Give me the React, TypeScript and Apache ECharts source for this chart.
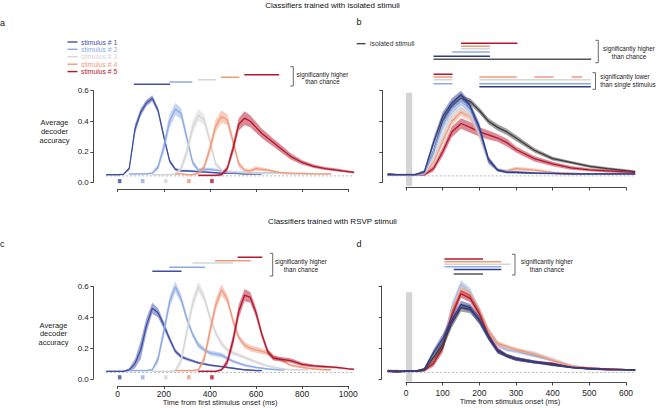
import React, { useEffect, useRef } from "react";
import * as echarts from "echarts";

// ---------------- data ----------------
const T = [-50, -25, 0, 25, 50, 75, 100, 125, 150, 175, 200, 225, 250, 275, 300, 350, 400, 450, 500, 550, 600, 625];
const ONSETS = [0, 100, 200, 300, 400];
const STIM_NAMES = ["stimulus # 1", "stimulus # 2", "stimulus # 3", "stimulus # 4", "stimulus # 5"];
const STIM_COLORS = ["#3e4fa6", "#8eaae4", "#d6d6d6", "#f09a7c", "#b5162d"];
const STIM_COLORS_BD = ["#2f3c8a", "#8eaae4", "#d6d6d6", "#f09a7c", "#b5162d"];
const ISO_COLOR = "#3c3c3c";
const CHANCE = 0.042;
const X_TICKS_AC = [0, 1000, 200];
const X_TICKS_BD = [0, 600, 100];
const Y_TICKS = [0, 0.6, 0.2];

// panel a: classifiers trained with isolated stimuli, tested on RSVP (relative time T after each onset)
const a1 = [0.05, 0.05, 0.05, 0.052, 0.09, 0.35, 0.46, 0.52, 0.55, 0.47, 0.3, 0.14, 0.085, 0.075, 0.075, 0.07, 0.065, 0.06, 0.06, 0.055, 0.055, 0.055];
const a2 = [0.055, 0.055, 0.055, 0.055, 0.06, 0.1, 0.23, 0.4, 0.48, 0.45, 0.29, 0.13, 0.08, 0.085, 0.085, 0.075, 0.065, 0.06, 0.06, 0.06, 0.06, 0.06];
const a3 = [0.05, 0.05, 0.05, 0.05, 0.055, 0.09, 0.2, 0.36, 0.44, 0.41, 0.27, 0.12, 0.08, 0.07, 0.07, 0.065, 0.06, 0.058, 0.058, 0.055, 0.055, 0.055];
const a4 = [0.055, 0.055, 0.05, 0.05, 0.06, 0.1, 0.22, 0.37, 0.43, 0.41, 0.27, 0.12, 0.08, 0.075, 0.09, 0.08, 0.065, 0.06, 0.058, 0.055, 0.055, 0.055];
const a5 = [0.045, 0.045, 0.045, 0.045, 0.05, 0.09, 0.22, 0.38, 0.42, 0.4, 0.36, 0.32, 0.29, 0.26, 0.23, 0.17, 0.13, 0.105, 0.09, 0.08, 0.07, 0.065];
const errA1 = [0.005, 0.005, 0.005, 0.005, 0.01, 0.03, 0.025, 0.02, 0.02, 0.02, 0.02, 0.015, 0.01, 0.008, 0.008, 0.006, 0.005, 0.005, 0.005, 0.005, 0.005, 0.005];
const errA2 = [0.005, 0.005, 0.005, 0.005, 0.008, 0.02, 0.04, 0.045, 0.04, 0.035, 0.03, 0.02, 0.012, 0.012, 0.01, 0.008, 0.006, 0.005, 0.005, 0.005, 0.005, 0.005];
const errA3 = [0.005, 0.005, 0.005, 0.005, 0.008, 0.02, 0.04, 0.045, 0.04, 0.035, 0.03, 0.02, 0.012, 0.01, 0.008, 0.006, 0.005, 0.005, 0.005, 0.005, 0.005, 0.005];
const errA4 = [0.005, 0.005, 0.005, 0.005, 0.008, 0.02, 0.035, 0.04, 0.04, 0.035, 0.03, 0.02, 0.012, 0.012, 0.015, 0.01, 0.006, 0.005, 0.005, 0.005, 0.005, 0.005];
const errA5 = [0.006, 0.006, 0.006, 0.006, 0.008, 0.02, 0.035, 0.04, 0.045, 0.04, 0.035, 0.03, 0.03, 0.025, 0.025, 0.02, 0.015, 0.012, 0.01, 0.01, 0.008, 0.008];

// panel b: isolated vs each RSVP position (time from stimulus onset T)
const bIso = [0.055, 0.05, 0.05, 0.05, 0.06, 0.2, 0.4, 0.5, 0.55, 0.53, 0.47, 0.4, 0.36, 0.33, 0.29, 0.21, 0.155, 0.13, 0.105, 0.09, 0.077, 0.07];
const b1 = [0.05, 0.05, 0.05, 0.05, 0.07, 0.26, 0.43, 0.52, 0.575, 0.5, 0.36, 0.15, 0.08, 0.065, 0.065, 0.06, 0.058, 0.055, 0.055, 0.055, 0.055, 0.055];
const b2 = [0.05, 0.05, 0.05, 0.05, 0.06, 0.2, 0.37, 0.48, 0.53, 0.48, 0.34, 0.14, 0.08, 0.07, 0.065, 0.06, 0.058, 0.055, 0.055, 0.055, 0.055, 0.055];
const b3 = [0.05, 0.05, 0.05, 0.05, 0.06, 0.16, 0.31, 0.44, 0.49, 0.45, 0.32, 0.14, 0.08, 0.07, 0.07, 0.062, 0.058, 0.055, 0.055, 0.055, 0.055, 0.055];
const b4 = [0.05, 0.05, 0.05, 0.05, 0.055, 0.13, 0.27, 0.4, 0.46, 0.43, 0.31, 0.14, 0.08, 0.075, 0.09, 0.08, 0.065, 0.06, 0.055, 0.055, 0.055, 0.055];
const b5 = [0.05, 0.05, 0.05, 0.05, 0.05, 0.09, 0.2, 0.33, 0.385, 0.36, 0.33, 0.31, 0.29, 0.26, 0.215, 0.155, 0.12, 0.095, 0.082, 0.075, 0.068, 0.065];
const errBIso = [0.005, 0.005, 0.005, 0.005, 0.01, 0.02, 0.02, 0.02, 0.02, 0.02, 0.02, 0.02, 0.02, 0.02, 0.02, 0.015, 0.012, 0.01, 0.01, 0.008, 0.008, 0.008];
const errB1 = [0.005, 0.005, 0.005, 0.005, 0.01, 0.03, 0.03, 0.03, 0.025, 0.025, 0.03, 0.02, 0.01, 0.008, 0.008, 0.006, 0.005, 0.005, 0.005, 0.005, 0.005, 0.005];
const errB2 = [0.005, 0.005, 0.005, 0.005, 0.01, 0.025, 0.03, 0.03, 0.025, 0.025, 0.03, 0.02, 0.01, 0.008, 0.008, 0.006, 0.005, 0.005, 0.005, 0.005, 0.005, 0.005];
const errB3 = [0.005, 0.005, 0.005, 0.005, 0.01, 0.025, 0.03, 0.03, 0.025, 0.025, 0.03, 0.02, 0.01, 0.008, 0.008, 0.006, 0.005, 0.005, 0.005, 0.005, 0.005, 0.005];
const errB4 = [0.005, 0.005, 0.005, 0.005, 0.008, 0.02, 0.025, 0.025, 0.025, 0.025, 0.025, 0.02, 0.01, 0.01, 0.012, 0.01, 0.006, 0.005, 0.005, 0.005, 0.005, 0.005];
const errB5 = [0.006, 0.006, 0.006, 0.006, 0.008, 0.02, 0.03, 0.035, 0.035, 0.035, 0.03, 0.03, 0.025, 0.025, 0.02, 0.018, 0.015, 0.012, 0.01, 0.01, 0.008, 0.008];

// panel c: classifiers trained with RSVP stimuli
const c1 = [0.05, 0.05, 0.05, 0.05, 0.06, 0.1, 0.19, 0.35, 0.46, 0.43, 0.35, 0.26, 0.18, 0.145, 0.13, 0.105, 0.09, 0.08, 0.07, 0.06, 0.055, 0.055];
const c2 = [0.055, 0.055, 0.055, 0.055, 0.06, 0.13, 0.31, 0.5, 0.6, 0.52, 0.39, 0.29, 0.22, 0.19, 0.17, 0.155, 0.115, 0.09, 0.075, 0.065, 0.06, 0.06];
const c3 = [0.05, 0.05, 0.05, 0.05, 0.055, 0.12, 0.31, 0.49, 0.6, 0.53, 0.4, 0.3, 0.23, 0.19, 0.17, 0.14, 0.11, 0.085, 0.07, 0.06, 0.06, 0.06];
const c4 = [0.055, 0.055, 0.055, 0.055, 0.06, 0.13, 0.31, 0.48, 0.58, 0.52, 0.38, 0.27, 0.22, 0.2, 0.19, 0.17, 0.13, 0.09, 0.075, 0.065, 0.06, 0.06];
const c5 = [0.05, 0.05, 0.05, 0.05, 0.06, 0.11, 0.25, 0.44, 0.545, 0.53, 0.43, 0.29, 0.18, 0.135, 0.13, 0.12, 0.095, 0.085, 0.08, 0.075, 0.066, 0.063];
const errC1 = [0.005, 0.005, 0.005, 0.005, 0.01, 0.03, 0.06, 0.05, 0.035, 0.03, 0.025, 0.02, 0.015, 0.012, 0.01, 0.008, 0.007, 0.006, 0.005, 0.005, 0.005, 0.005];
const errC2 = [0.005, 0.005, 0.005, 0.005, 0.008, 0.03, 0.04, 0.04, 0.035, 0.03, 0.025, 0.02, 0.02, 0.015, 0.015, 0.015, 0.01, 0.008, 0.006, 0.005, 0.005, 0.005];
const errC3 = [0.005, 0.005, 0.005, 0.005, 0.008, 0.03, 0.04, 0.04, 0.035, 0.03, 0.025, 0.02, 0.02, 0.015, 0.015, 0.012, 0.01, 0.008, 0.006, 0.005, 0.005, 0.005];
const errC4 = [0.005, 0.005, 0.005, 0.005, 0.008, 0.03, 0.04, 0.04, 0.035, 0.03, 0.025, 0.02, 0.02, 0.02, 0.02, 0.015, 0.01, 0.008, 0.006, 0.005, 0.005, 0.005];
const errC5 = [0.005, 0.005, 0.005, 0.005, 0.008, 0.025, 0.04, 0.045, 0.04, 0.035, 0.03, 0.025, 0.02, 0.015, 0.015, 0.015, 0.012, 0.01, 0.008, 0.006, 0.005, 0.005];

// panel d
const dIso = [0.05, 0.05, 0.05, 0.05, 0.06, 0.14, 0.22, 0.36, 0.46, 0.45, 0.38, 0.27, 0.18, 0.15, 0.13, 0.11, 0.09, 0.075, 0.065, 0.06, 0.06, 0.06];
const d1 = [0.05, 0.045, 0.05, 0.05, 0.065, 0.17, 0.26, 0.38, 0.48, 0.46, 0.38, 0.27, 0.18, 0.15, 0.13, 0.11, 0.095, 0.075, 0.065, 0.06, 0.06, 0.055];
const d2 = [0.055, 0.05, 0.05, 0.05, 0.06, 0.12, 0.22, 0.46, 0.61, 0.56, 0.44, 0.31, 0.22, 0.19, 0.18, 0.15, 0.12, 0.085, 0.07, 0.065, 0.06, 0.06];
const d3 = [0.05, 0.05, 0.05, 0.05, 0.06, 0.12, 0.22, 0.44, 0.59, 0.55, 0.44, 0.31, 0.23, 0.2, 0.19, 0.17, 0.13, 0.09, 0.07, 0.065, 0.06, 0.06];
const d4 = [0.055, 0.055, 0.05, 0.05, 0.06, 0.12, 0.22, 0.43, 0.57, 0.54, 0.44, 0.31, 0.23, 0.21, 0.19, 0.16, 0.12, 0.085, 0.07, 0.065, 0.06, 0.06];
const d5 = [0.05, 0.05, 0.05, 0.05, 0.055, 0.1, 0.2, 0.41, 0.55, 0.52, 0.42, 0.28, 0.19, 0.15, 0.13, 0.11, 0.1, 0.075, 0.07, 0.065, 0.06, 0.06];
const errD = [0.005, 0.005, 0.005, 0.005, 0.008, 0.02, 0.03, 0.03, 0.025, 0.025, 0.025, 0.02, 0.015, 0.012, 0.012, 0.01, 0.008, 0.006, 0.005, 0.005, 0.005, 0.005];

// significance bars: [color key, level, segments in ms]
const SIG_A = [
  [0, 0.642, [[70, 227]]],
  [1, 0.657, [[224, 324]]],
  [2, 0.672, [[348, 427]]],
  [3, 0.688, [[447, 527]]],
  [4, 0.705, [[549, 700]]],
];
const SIG_B = [
  [4, 0.91, [[150, 304]]],
  [3, 0.891, [[150, 229]]],
  [2, 0.875, [[150, 229]]],
  [1, 0.853, [[126, 229]]],
  [0, 0.825, [[75, 229]]],
  [-1, 0.806, [[75, 505]]],
  [4, 0.707, [[75, 127]]],
  [3, 0.69, [[75, 127], [200, 302], [350, 402], [452, 481]]],
  [2, 0.672, [[75, 127], [200, 504]]],
  [1, 0.645, [[75, 127], [200, 504]]],
  [0, 0.626, [[200, 504]]],
];
const SIG_C = [
  [0, 0.7, [[150, 277]]],
  [1, 0.726, [[224, 379]]],
  [2, 0.754, [[324, 501]]],
  [3, 0.769, [[422, 577]]],
  [4, 0.791, [[520, 627]]],
];
const SIG_D = [
  [4, 0.774, [[105, 210]]],
  [3, 0.757, [[105, 260]]],
  [2, 0.74, [[105, 285]]],
  [1, 0.725, [[105, 260]]],
  [0, 0.706, [[130, 260]]],
  [-1, 0.677, [[130, 210]]],
];
const STIM_BAR = [0, 17]; // stimulus presentation (ms)
const GRAY_BAR_B = [-0.025, 0.587];
const GRAY_BAR_D = [-0.017, 0.56];

// ---------------- layout ----------------
const FONT = '"Liberation Sans", Arial, Helvetica, sans-serif';
const AXIS_COLOR = "#333";
const PANELS = [
  { x0: 117.7, x1: 348.3, xMax: 1000, y0: 182.3, y6: 90.7, yAxisX: 93.3, xAxisY: 189, xLabels: false, xMin: -50, xEnd: 1030, xLast: 1025 },
  { x0: 406, x1: 626, xMax: 600, y0: 182.3, y6: 90.7, yAxisX: 382.3, xAxisY: 187.5, xLabels: false, xMin: -50, xEnd: 650, xLast: 625 },
  { x0: 117.7, x1: 348.3, xMax: 1000, y0: 379, y6: 286.7, yAxisX: 93.3, xAxisY: 386, xLabels: true, xMin: -50, xEnd: 1030, xLast: 1025, lblMargin: 3.5 },
  { x0: 406, x1: 626, xMax: 600, y0: 379, y6: 286, yAxisX: 381.7, xAxisY: 382.5, xLabels: true, xMin: -50, xEnd: 650, xLast: 625, lblMargin: 6 },
];

function buildAxes() {
  const grid: any[] = [];
  const xAxis: any[] = [];
  const yAxis: any[] = [];
  const line = { show: true, onZero: false, lineStyle: { color: AXIS_COLOR, width: 0.9 } };
  const tick = { show: true, length: 3, inside: false, lineStyle: { color: AXIS_COLOR, width: 0.9 } };
  PANELS.forEach((p, i) => {
    const xt = p.xMax === 1000 ? X_TICKS_AC : X_TICKS_BD;
    grid.push({ left: p.x0, top: p.y6, width: p.x1 - p.x0, height: p.y0 - p.y6, outerBoundsMode: "none", containLabel: false });
    xAxis.push({
      gridIndex: i, type: "value", min: xt[0], max: xt[1], interval: xt[2], offset: p.xAxisY - p.y0,
      axisLine: line, axisTick: tick, splitLine: { show: false },
      axisLabel: { show: p.xLabels, fontSize: 8.5, color: "#222", fontFamily: FONT, margin: p.lblMargin || 4, formatter: (v: number) => String(v) },
    });
    yAxis.push({
      gridIndex: i, type: "value", min: Y_TICKS[0], max: Y_TICKS[1], interval: Y_TICKS[2], offset: p.x0 - p.yAxisX,
      axisLine: line, axisTick: tick, splitLine: { show: false },
      axisLabel: { show: i % 2 === 0, fontSize: 8, color: "#222", fontFamily: FONT, margin: 4.5, formatter: (v: number) => v.toFixed(1) },
    });
  });
  PANELS.forEach((p, i) => {
    const pxMs = (p.x1 - p.x0) / p.xMax;
    const pxU = (p.y0 - p.y6) / 0.6;
    grid.push({ left: p.x0 + p.xMin * pxMs, width: (p.xEnd - p.xMin) * pxMs, top: p.y0 - 1.0 * pxU, height: 1.05 * pxU, outerBoundsMode: "none", containLabel: false });
    xAxis.push({ gridIndex: 4 + i, type: "value", min: p.xMin, max: p.xEnd, show: false, splitLine: { show: false } });
    yAxis.push({ gridIndex: 4 + i, type: "value", min: -0.05, max: 1.0, show: false, splitLine: { show: false } });
  });
  return { grid, xAxis, yAxis };
}

function band(ax: number, offset: number, mean: number[], err: number[], color: string, z: number, lw = 1.3) {
  const rows = T.map((t, i) => [t + offset, mean[i] - err[i], mean[i] + err[i]]);
  const area = {
    type: "custom", xAxisIndex: ax, yAxisIndex: ax, silent: true, z, clip: false,
    data: rows, encode: { x: 0, y: [1, 2] },
    renderItem: (params: any, api: any) => {
      if (params.dataIndex !== 0) return { type: "group", children: [] };
      const up = rows.map((r) => api.coord([r[0], r[2]]));
      const dn = rows.map((r) => api.coord([r[0], r[1]])).reverse();
      return { type: "polygon", shape: { points: up.concat(dn) }, style: { fill: color, opacity: 0.5 } };
    },
  };
  const ln = { type: "line", xAxisIndex: ax, yAxisIndex: ax, symbol: "none", silent: true, z,
    data: T.map((t, i) => [t + offset, mean[i]]), lineStyle: { color, width: lw } };
  return [area, ln];
}

function sigBars(ax: number, rows: any[], colors: string[]) {
  const out: any[] = [];
  rows.forEach((r) => {
    const color = r[0] < 0 ? "#555" : colors[r[0]];
    r[2].forEach((seg: number[]) => {
      out.push({ type: "line", xAxisIndex: ax, yAxisIndex: ax, symbol: "none", silent: true, z: 5,
        data: [[seg[0], r[1]], [seg[1], r[1]]], lineStyle: { color, width: 1.5 } });
    });
  });
  return out;
}

function chance(ax: number, p: any, bar?: number[]) {
  const s: any = { type: "line", xAxisIndex: ax, yAxisIndex: ax, symbol: "none", silent: true, z: 1,
    data: [[p.xMin, CHANCE], [p.xLast, CHANCE]],
    lineStyle: { color: "#9a9a9a", width: 0.7, type: [2, 2] } };
  if (bar) {
    s.markArea = { silent: true, itemStyle: { color: "#d4d4d4" },
      data: [[{ xAxis: STIM_BAR[0], yAxis: bar[0] }, { xAxis: STIM_BAR[1], yAxis: bar[1] }]] };
  }
  return s;
}

function stimSquares(ax: number, y: number) {
  return { type: "scatter", xAxisIndex: ax, yAxisIndex: ax, symbol: "rect", symbolSize: [3.6, 4.2], silent: true, z: 6,
    data: ONSETS.map((o, i) => ({ value: [o + (STIM_BAR[0] + STIM_BAR[1]) / 2, y], itemStyle: { color: STIM_COLORS[i] } })) };
}

function txt(text: string, x: number, y: number, size: number, fill = "#222", align = "left") {
  return { type: "text", x, y, silent: true, z: 100,
    style: { text, fontSize: size, fontFamily: FONT, fill, align, verticalAlign: "middle", textAlign: align, textVerticalAlign: "middle" } };
}
function bracket(x: number, y1: number, y2: number) {
  return { type: "polyline", silent: true, z: 100, shape: { points: [[x - 3, y1], [x, y1], [x, y2], [x - 3, y2]] },
    style: { stroke: "#444", lineWidth: 0.8, fill: null } };
}

function buildOption() {
  const { grid, xAxis, yAxis } = buildAxes();
  const series: any[] = [];
  // panel a
  series.push(chance(4, PANELS[0]));
  [[a1, errA1], [a2, errA2], [a3, errA3], [a4, errA4], [a5, errA5]].forEach((m, i) =>
    series.push(...band(4, ONSETS[i], m[0], m[1], STIM_COLORS[i], 2 + i)));
  series.push(...sigBars(4, SIG_A, STIM_COLORS), stimSquares(4, 0.008));
  // panel b
  series.push(chance(5, PANELS[1], GRAY_BAR_B));
  series.push(...band(5, 0, bIso, errBIso, ISO_COLOR, 2));
  [[b5, errB5, 4], [b4, errB4, 3], [b3, errB3, 2], [b2, errB2, 1], [b1, errB1, 0]].forEach((m: any, k) =>
    series.push(...band(5, 0, m[0], m[1], STIM_COLORS_BD[m[2]], 3 + k)));
  series.push(...sigBars(5, SIG_B, STIM_COLORS_BD));
  // panel c
  series.push(chance(6, PANELS[2]));
  [[c1, errC1], [c2, errC2], [c3, errC3], [c4, errC4], [c5, errC5]].forEach((m, i) =>
    series.push(...band(6, ONSETS[i], m[0], m[1], STIM_COLORS[i], 2 + i)));
  series.push(...sigBars(6, SIG_C, STIM_COLORS), stimSquares(6, 0.011));
  // panel d
  series.push(chance(7, PANELS[3], GRAY_BAR_D));
  [[d2, 1], [d3, 2], [d4, 3], [d5, 4], [dIso, -1], [d1, 0]].forEach((m: any, k) =>
    series.push(...band(7, 0, m[0], errD, m[1] < 0 ? ISO_COLOR : STIM_COLORS_BD[m[1]], 2 + k)));
  series.push(...sigBars(7, SIG_D, STIM_COLORS_BD));

  const graphic: any[] = [
    txt("Classifiers trained with isolated stimuli", 332.5, 5, 8, "#111", "center"),
    txt("Classifiers trained with RSVP stimuli", 332.5, 221, 8, "#111", "center"),
    txt("a", 0, 22.5, 9, "#111"),
    txt("b", 356.5, 22, 9, "#111"),
    txt("c", 0, 244, 9, "#111"),
    txt("d", 356.5, 243.5, 9, "#111"),
    txt("Average", 54.5, 122.7, 7.5, "#222", "center"),
    txt("decoder", 54.5, 131.5, 7.5, "#222", "center"),
    txt("accuracy", 54.5, 140.2, 7.5, "#222", "center"),
    txt("Average", 53.5, 325.3, 7.5, "#222", "center"),
    txt("decoder", 53.5, 333.8, 7.5, "#222", "center"),
    txt("accuracy", 53.5, 342.3, 7.5, "#222", "center"),
    txt("Time from first stimulus onset (ms)", 220, 402, 7.5, "#222", "center"),
    txt("Time from stimulus onset (ms)", 510, 401.5, 7.5, "#222", "center"),
    bracket(293.3, 66.7, 86), txt("significantly higher", 322.5, 74, 6.3, "#222", "center"), txt("than chance", 322.5, 81, 6.3, "#222", "center"),
    bracket(598.3, 40.3, 62.7), txt("significantly higher", 629, 48.3, 6.3, "#222", "center"), txt("than chance", 629, 56, 6.3, "#222", "center"),
    bracket(595.5, 72.7, 89.3), txt("significantly lower", 625, 76.3, 6.3, "#222", "center"), txt("than single stimulus", 628, 84, 6.3, "#222", "center"),
    bracket(272.7, 253.3, 276), txt("significantly higher", 301, 261.7, 6.3, "#222", "center"), txt("than chance", 301, 269.3, 6.3, "#222", "center"),
    bracket(515, 254.3, 275), txt("significantly higher", 547, 261.7, 6.3, "#222", "center"), txt("than chance", 547, 269, 6.3, "#222", "center"),
    { type: "line", silent: true, shape: { x1: 356.7, y1: 43.7, x2: 365.5, y2: 43.7 }, style: { stroke: ISO_COLOR, lineWidth: 1.3 } },
    txt("isolated stimuli", 370, 43.7, 6.8, "#333"),
  ];
  const legY = [42, 49.3, 56.7, 64.2, 71.6];
  STIM_NAMES.forEach((n, i) => {
    graphic.push({ type: "line", silent: true, shape: { x1: 67.5, y1: legY[i], x2: 77.5, y2: legY[i] }, style: { stroke: STIM_COLORS[i], lineWidth: 1.4 } });
    graphic.push(txt(n, 81, legY[i], 6.8, STIM_COLORS[i]));
  });

  return { animation: false, backgroundColor: "#ffffff", grid, xAxis, yAxis, series, graphic };
}

export default function App() {
  const ref = useRef<HTMLDivElement>(null);
  useEffect(() => {
    if (!ref.current) return;
    const chart = echarts.init(ref.current, null, { renderer: "svg" });
    chart.setOption(buildOption() as any);
    return () => chart.dispose();
  }, []);
  return <div ref={ref} style={{ position: "absolute", left: 0, top: 0, width: 658, height: 408, background: "#fff" }} />;
}
